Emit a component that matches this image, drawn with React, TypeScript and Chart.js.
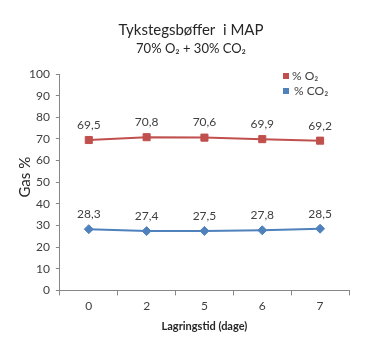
import React, { useEffect, useRef } from "react";
import { Chart, registerables } from "chart.js";

Chart.register(...registerables);

const categories = ["0", "2", "5", "6", "7"];
const o2Values = [69.5, 70.8, 70.6, 69.9, 69.2];
const co2Values = [28.3, 27.4, 27.5, 27.8, 28.5];
const o2Labels = ["69,5", "70,8", "70,6", "69,9", "69,2"];
const co2Labels = ["28,3", "27,4", "27,5", "27,8", "28,5"];
const seriesNames = ["% O₂", "% CO₂"];
const titleText = "Tykstegsbøffer  i MAP";
const subtitleText = "70% O₂ + 30% CO₂";
const yTitleText = "Gas %";

const FONT = "Lato, 'Open Sans', sans-serif";
const TEXT = "#404040";
const RED = "#C0504D";
const BLUE = "#4F81BD";

const labelPlugin = {
  id: "pointLabels",
  afterDatasetsDraw(chart: any) {
    const ctx = chart.ctx;
    const labelSets = [o2Labels, co2Labels];
    ctx.save();
    ctx.font = `12px ${FONT}`;
    ctx.fillStyle = TEXT;
    ctx.textAlign = "center";
    ctx.textBaseline = "middle";
    chart.data.datasets.forEach((ds: any, i: number) => {
      const meta = chart.getDatasetMeta(i);
      meta.data.forEach((pt: any, j: number) => {
        ctx.fillText(labelSets[i][j], pt.x, pt.y - 15);
      });
    });
    ctx.restore();
  },
};

const titlePlugin = {
  id: "customTitle",
  afterDraw(chart: any) {
    const ctx = chart.ctx;
    const a = chart.chartArea;
    const cx = chart.width / 2 - 4;
    ctx.save();
    ctx.fillStyle = "#262626";
    ctx.textAlign = "center";
    ctx.textBaseline = "middle";
    ctx.font = `15px ${FONT}`;
    ctx.fillText(titleText, cx, 30);
    ctx.font = `13px ${FONT}`;
    ctx.fillText(subtitleText, cx, 49);
    ctx.translate(a.left - 35, (a.top + a.bottom) / 2 - 5);
    ctx.rotate(-Math.PI / 2);
    ctx.font = `15px ${FONT}`;
    ctx.fillText(yTitleText, 0, 0);
    ctx.restore();
  },
};

const legendPlugin = {
  id: "customLegend",
  afterDraw(chart: any) {
    const ctx = chart.ctx;
    const a = chart.chartArea;
    ctx.save();
    ctx.font = `12px ${FONT}`;
    ctx.textBaseline = "middle";
    ctx.textAlign = "left";
    const colors = [RED, BLUE];
    const x0 = a.right - 66;
    seriesNames.forEach((n, i) => {
      const y = a.top + 2 + i * 15;
      ctx.fillStyle = colors[i];
      ctx.fillRect(x0, y - 3, 6, 6);
      ctx.fillStyle = TEXT;
      ctx.fillText(n, x0 + 9 + i * 2, y);
    });
    ctx.restore();
  },
};

export default function App() {
  const ref = useRef<HTMLCanvasElement>(null);
  useEffect(() => {
    if (!ref.current) return;
    const chart = new Chart(ref.current, {
      type: "line",
      data: {
        labels: categories,
        datasets: [
          {
            label: seriesNames[0],
            data: o2Values,
            borderColor: RED,
            backgroundColor: RED,
            borderWidth: 2,
            pointStyle: "rect",
            pointRadius: 5,
            pointBorderWidth: 1,
            tension: 0,
          },
          {
            label: seriesNames[1],
            data: co2Values,
            borderColor: BLUE,
            backgroundColor: BLUE,
            borderWidth: 2,
            pointStyle: "rectRot",
            pointRadius: 4.5,
            pointBorderWidth: 1,
            tension: 0,
          },
        ],
      },
      options: {
        animation: false,
        responsive: false,
        devicePixelRatio: 1,
        layout: { padding: { left: 23, right: 41, top: 74, bottom: 5 } },
        plugins: {
          legend: { display: false },
          tooltip: { enabled: false },
          title: { display: false },
        },
        scales: {
          x: {
            offset: true,
            grid: {
              offset: true,
              drawOnChartArea: false,
              drawTicks: true,
              tickLength: 5,
              color: "#868686",
            },
            border: { color: "#868686", width: 1 },
            ticks: { color: TEXT, font: { family: FONT, size: 12 }, padding: 4 },
            title: {
              display: true,
              text: "Lagringstid (dage)",
              color: "#262626",
              font: { family: FONT, size: 11, weight: "bold" },
              padding: { top: 2, bottom: 0 },
            },
          },
          y: {
            min: 0,
            max: 100,
            ticks: { stepSize: 10, color: TEXT, font: { family: FONT, size: 12 }, padding: 6 },
            grid: {
              drawOnChartArea: false,
              drawTicks: true,
              tickLength: 4,
              color: "#868686",
            },
            border: { color: "#868686", width: 1 },
            title: { display: false },
          },
        },
      },
      plugins: [labelPlugin, legendPlugin, titlePlugin],
    });
    return () => chart.destroy();
  }, []);
  return (
    <div style={{ position: "absolute", left: 0, top: 0, width: 390, height: 338, background: "#fff" }}>
      <canvas ref={ref} width={390} height={338} style={{ width: 390, height: 338 }} />
    </div>
  );
}
